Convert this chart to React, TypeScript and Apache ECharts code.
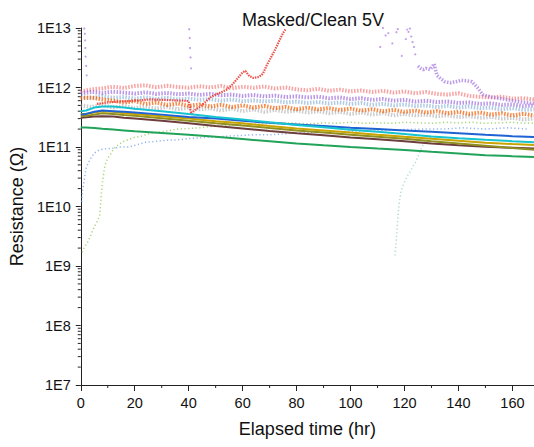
import React, { useEffect, useRef } from 'react';
import * as echarts from 'echarts';

const FONT = '"Liberation Sans", Arial, Helvetica, sans-serif';

// Axis ticks
const xTickValues = [0, 20, 40, 60, 80, 100, 120, 140, 160];
const xMinorTicks = [10, 30, 50, 70, 90, 110, 130, 150];
const yDecades = [1e7, 1e8, 1e9, 1e10, 1e11, 1e12];
const yMinorMantissas = [2, 3, 4, 5, 6, 7, 8, 9];

// Noisy bands, sampled every 4 h
const bandHours = [0, 4, 8, 12, 16, 20, 24, 28, 32, 36, 40, 44, 48, 52, 56, 60, 64, 68, 72, 76, 80, 84, 88, 92, 96, 100, 104, 108, 112, 116, 120, 124, 128, 132, 136, 140, 144, 148, 152, 156, 160, 164, 168];
const redBand = [8.6e11, 9.3e11, 9.7e11, 1.03e12, 9.8e11, 1.06e12, 1.09e12, 1.01e12, 1.07e12, 1.02e12, 9.9e11, 1.05e12, 1.0e12, 1.06e12, 9.7e11, 1.03e12, 9.9e11, 1.04e12, 9.6e11, 1.0e12, 9.3e11, 9.0e11, 9.5e11, 8.8e11, 9.2e11, 8.6e11, 8.9e11, 8.4e11, 8.8e11, 8.2e11, 8.6e11, 8.0e11, 8.4e11, 7.8e11, 7.6e11, 8.0e11, 7.2e11, 7.0e11, 6.8e11, 7.0e11, 6.5e11, 6.6e11, 6.3e11];
const purpleBand = [8.0e11, 8.4e11, 8.1e11, 8.5e11, 8.2e11, 7.9e11, 8.3e11, 7.8e11, 8.1e11, 7.7e11, 7.9e11, 7.5e11, 7.8e11, 7.4e11, 7.6e11, 7.2e11, 7.5e11, 7.1e11, 7.3e11, 6.9e11, 7.1e11, 6.8e11, 7.0e11, 6.6e11, 6.8e11, 6.4e11, 6.6e11, 6.2e11, 6.4e11, 6.0e11, 6.2e11, 5.8e11, 6.0e11, 5.7e11, 5.8e11, 5.5e11, 5.6e11, 5.3e11, 5.4e11, 5.1e11, 5.2e11, 4.9e11, 5.0e11];
const steelBand = [7.0e11, 6.6e11, 7.1e11, 6.7e11, 6.9e11, 6.5e11, 6.8e11, 6.4e11, 6.7e11, 6.3e11, 6.5e11, 6.2e11, 6.4e11, 6.0e11, 6.3e11, 5.9e11, 6.1e11, 5.8e11, 6.0e11, 5.6e11, 5.8e11, 5.5e11, 5.7e11, 5.4e11, 5.6e11, 5.3e11, 5.5e11, 5.1e11, 5.3e11, 5.0e11, 5.2e11, 4.9e11, 5.0e11, 4.7e11, 4.9e11, 4.6e11, 4.8e11, 4.5e11, 4.6e11, 4.3e11, 4.5e11, 4.2e11, 4.3e11];
const orangeBand = [6.6e11, 6.8e11, 6.3e11, 6.0e11, 5.6e11, 5.9e11, 5.3e11, 5.6e11, 5.1e11, 5.4e11, 4.9e11, 5.2e11, 4.8e11, 5.1e11, 4.7e11, 5.0e11, 4.6e11, 4.9e11, 4.5e11, 4.7e11, 4.3e11, 4.6e11, 4.3e11, 4.5e11, 4.2e11, 4.4e11, 4.1e11, 4.3e11, 4.0e11, 4.2e11, 3.9e11, 4.1e11, 3.8e11, 4.0e11, 3.7e11, 3.9e11, 3.6e11, 3.8e11, 3.5e11, 3.7e11, 3.4e11, 3.6e11, 3.4e11];
const grayBand = [5.0e11, 4.7e11, 5.1e11, 4.6e11, 4.9e11, 4.5e11, 4.8e11, 4.4e11, 4.7e11, 4.3e11, 4.6e11, 4.3e11, 4.5e11, 4.1e11, 4.4e11, 4.0e11, 4.3e11, 3.9e11, 4.2e11, 3.9e11, 4.1e11, 3.8e11, 4.0e11, 3.7e11, 3.9e11, 3.6e11, 3.8e11, 3.5e11, 3.7e11, 3.4e11, 3.6e11, 3.4e11, 3.5e11, 3.3e11, 3.4e11, 3.2e11, 3.3e11, 3.1e11, 3.2e11, 3.0e11, 3.1e11, 2.9e11, 3.0e11];

// Sparse rising series
const greenRiseHours = [0.5, 1, 1.5, 2, 2.5, 3, 3.5, 4, 4.5, 5, 5.5, 6, 6.5, 7, 7.5, 8, 8.5, 9, 10, 11, 12, 13, 14, 16, 18, 20, 22, 24, 26, 28, 30, 33, 36, 40, 44, 48, 52, 56, 60, 64, 68, 72, 76, 80, 85, 90, 95, 100, 105, 110, 115, 120, 125, 130, 135, 140, 145, 150, 155, 160, 165, 168];
const greenRiseValues = [1.7e9, 1.9e9, 2.1e9, 2.3e9, 2.5e9, 2.8e9, 3.1e9, 3.5e9, 4.0e9, 4.6e9, 5.0e9, 5.5e9, 6.2e9, 7.0e9, 1.4e10, 2.5e10, 3.6e10, 5.0e10, 6.5e10, 7.5e10, 9e10, 1.0e11, 1.1e11, 1.25e11, 1.35e11, 1.45e11, 1.5e11, 1.6e11, 1.7e11, 1.75e11, 1.8e11, 1.9e11, 2.0e11, 2.05e11, 2.1e11, 2.2e11, 2.25e11, 2.35e11, 2.4e11, 2.4e11, 2.5e11, 2.45e11, 2.55e11, 2.5e11, 2.45e11, 2.55e11, 2.5e11, 2.6e11, 2.5e11, 2.55e11, 2.5e11, 2.6e11, 2.55e11, 2.5e11, 2.6e11, 2.55e11, 2.6e11, 2.5e11, 2.55e11, 2.6e11, 2.5e11, 2.55e11];
const blueDotHours = [0.3, 0.8, 1.3, 2, 3, 4, 5, 7, 9, 12, 15, 18, 21, 24, 28, 32, 36, 41, 46, 52, 58, 64, 70, 78, 86, 94, 102, 110, 118, 126, 134, 142, 150, 158, 166];
const blueDotValues = [1.2e10, 2e10, 2.8e10, 4.5e10, 5.6e10, 6.8e10, 7.9e10, 9e10, 9.3e10, 9.6e10, 1.0e11, 1.0e11, 1.1e11, 1.2e11, 1.25e11, 1.3e11, 1.32e11, 1.4e11, 1.45e11, 1.5e11, 1.55e11, 1.6e11, 1.6e11, 1.7e11, 1.75e11, 1.8e11, 1.85e11, 1.9e11, 1.95e11, 2.0e11, 2.0e11, 2.1e11, 2.0e11, 2.1e11, 2.0e11];
const tealLateHours = [116.5, 117, 117.5, 118, 118.6, 119.5, 120.5, 121.3, 122, 123, 124, 125, 126, 127, 128.5, 130];
const tealLateValues = [1.5e9, 3e9, 6e9, 1.1e10, 1.7e10, 2.3e10, 2.9e10, 3.4e10, 3.8e10, 4.6e10, 5.4e10, 7e10, 8.9e10, 1.1e11, 1.3e11, 1.5e11];

// Red sample that drifts up to 1E13
const redRiseHours = [6, 10, 14, 18, 22, 26, 30, 34, 38, 40, 40.5, 41, 42, 44, 46, 48, 50, 52, 54, 56, 58, 60, 61, 62.5, 64, 66, 67.5, 69, 70.5, 72, 73.5, 75, 76];
const redRiseValues = [5.3e11, 5.6e11, 5.8e11, 5.9e11, 6.1e11, 6.3e11, 6.2e11, 6.1e11, 6.0e11, 5.9e11, 4.5e11, 3.6e11, 4.1e11, 4.7e11, 5.6e11, 6.8e11, 7.6e11, 8.3e11, 9.2e11, 1.1e12, 1.4e12, 1.8e12, 1.9e12, 1.55e12, 1.45e12, 1.5e12, 1.7e12, 2.4e12, 3.2e12, 4.3e12, 6.0e12, 8.3e12, 9.6e12];

// Purple sample with excursions
const purpleOutlierHours = [1.3, 1.5, 1.6, 1.7, 1.8, 2.0, 2.2, 40.2, 40.4, 40.5, 40.7, 40.9, 111, 112, 113, 114, 115.5, 117, 117.5, 119, 120.5, 121, 121.5, 122, 122.5, 123, 123.5, 124];
const purpleOutlierValues = [9.8e12, 8e12, 6.2e12, 4.6e12, 3.3e12, 2.3e12, 1.6e12, 9.5e12, 6.8e12, 4.6e12, 3.2e12, 2.1e12, 4.8e12, 1e13, 7.5e12, 8.2e12, 5.5e12, 8.5e12, 9.6e12, 3.4e12, 6.5e12, 9.4e12, 8.6e12, 9.8e12, 7.2e12, 5.8e12, 4.8e12, 3.6e12];
const purpleHighHours = [125, 126, 127, 128, 129.5, 131, 132, 133.5, 135, 137, 139, 141, 143, 145, 147, 149, 152, 155, 158, 161, 165, 168];
const purpleHighValues = [2.3e12, 2.1e12, 2.0e12, 2.1e12, 2.0e12, 2.5e12, 1.6e12, 1.4e12, 1.25e12, 1.2e12, 1.25e12, 1.32e12, 1.3e12, 1.25e12, 1.0e12, 7.6e11, 6.9e11, 6.6e11, 6.2e11, 5.9e11, 5.6e11, 5.4e11];

// Smooth decaying samples
const lineHours = [0, 2, 5, 8, 12, 16, 20, 30, 40, 50, 60, 70, 80, 90, 100, 110, 120, 130, 140, 150, 160, 168];
const cyanLine = [4.0e11, 4.1e11, 4.6e11, 4.8e11, 4.8e11, 4.6e11, 4.4e11, 4.0e11, 3.6e11, 3.2e11, 2.9e11, 2.6e11, 2.35e11, 2.15e11, 1.95e11, 1.8e11, 1.65e11, 1.5e11, 1.4e11, 1.32e11, 1.25e11, 1.2e11];
const blueLine = [3.5e11, 3.6e11, 3.9e11, 4.1e11, 4.0e11, 3.9e11, 3.8e11, 3.5e11, 3.2e11, 3.0e11, 2.75e11, 2.55e11, 2.4e11, 2.25e11, 2.1e11, 2.0e11, 1.9e11, 1.8e11, 1.7e11, 1.6e11, 1.52e11, 1.47e11];
const goldLine = [3.6e11, 3.6e11, 3.8e11, 4.0e11, 3.9e11, 3.7e11, 3.6e11, 3.3e11, 3.0e11, 2.7e11, 2.5e11, 2.25e11, 2.05e11, 1.9e11, 1.75e11, 1.6e11, 1.48e11, 1.37e11, 1.27e11, 1.18e11, 1.12e11, 1.08e11];
const oliveLine = [3.3e11, 3.35e11, 3.5e11, 3.7e11, 3.6e11, 3.45e11, 3.35e11, 3.05e11, 2.75e11, 2.5e11, 2.3e11, 2.08e11, 1.9e11, 1.75e11, 1.6e11, 1.48e11, 1.37e11, 1.25e11, 1.15e11, 1.05e11, 9.6e10, 9.0e10];
const brownLine = [3.1e11, 3.15e11, 3.25e11, 3.3e11, 3.25e11, 3.1e11, 3.0e11, 2.75e11, 2.5e11, 2.25e11, 2.05e11, 1.85e11, 1.7e11, 1.57e11, 1.45e11, 1.35e11, 1.25e11, 1.15e11, 1.07e11, 1.01e11, 9.7e10, 9.4e10];
const greenLine = [2.12e11, 2.12e11, 2.08e11, 2.02e11, 1.96e11, 1.9e11, 1.84e11, 1.72e11, 1.6e11, 1.48e11, 1.36e11, 1.25e11, 1.15e11, 1.07e11, 1.0e11, 9.4e10, 8.9e10, 8.3e10, 7.8e10, 7.3e10, 7.0e10, 6.8e10];

const pairs = (xs: number[], ys: number[]) => xs.map((x, i) => [x, ys[i]]);

const band = (name: string, xs: number[], ys: number[], color: string, opacity = 0.6) => ({
  name, type: 'line', data: pairs(xs, ys), showSymbol: false, silent: true,
  lineStyle: { color, width: 4, type: [1.5, 1.5], opacity },
});
const dotted = (name: string, xs: number[], ys: number[], color: string, width = 1.5) => ({
  name, type: 'line', data: pairs(xs, ys), showSymbol: false, silent: true,
  lineStyle: { color, width, type: [1.2, 2.5], opacity: 0.85 },
});
const solid = (name: string, xs: number[], ys: number[], color: string, width = 2, opacity = 1) => ({
  name, type: 'line', data: pairs(xs, ys), showSymbol: false, silent: true,
  lineStyle: { color, width, opacity },
});

export default function App() {
  const ref = useRef<HTMLDivElement>(null);
  useEffect(() => {
    if (!ref.current) return;
    const chart = echarts.init(ref.current, null, { renderer: 'svg' });
    const yMinor: number[][] = [];
    yDecades.forEach((d) => yMinorMantissas.forEach((m) => yMinor.push([0, m * d])));
    const option: any = {
      animation: false,
      backgroundColor: '#ffffff',
      textStyle: { fontFamily: FONT },
      title: {
        text: 'Masked/Clean 5V', left: 308, top: 6, textAlign: 'center',
        textStyle: { fontFamily: FONT, fontSize: 18, fontWeight: 'normal', color: '#111' },
      },
      grid: { left: 77, right: 0, top: 28, bottom: 62, containLabel: false },
      xAxis: {
        type: 'value', min: 0, max: 168, interval: 20,
        name: 'Elapsed time (hr)', nameLocation: 'middle', nameGap: 35,
        nameTextStyle: { fontFamily: FONT, fontSize: 18, color: '#111' },
        axisLine: { show: true, lineStyle: { color: '#222', width: 1 } },
        axisTick: { show: true, inside: false, length: 6, customValues: xTickValues, lineStyle: { color: '#222' } },
        axisLabel: { fontFamily: FONT, fontSize: 14.5, color: '#111', margin: 10, customValues: xTickValues },
        splitLine: { show: false },
      },
      yAxis: {
        type: 'log', logBase: 10, min: 1e7, max: 1e13, splitNumber: 6,
        name: 'Resistance (Ω)', nameLocation: 'middle', nameGap: 51,
        nameTextStyle: { fontFamily: FONT, fontSize: 18, color: '#111' },
        axisLine: { show: true, lineStyle: { color: '#222', width: 1 } },
        axisTick: { show: true, inside: false, length: 5, lineStyle: { color: '#222' } },
        axisLabel: {
          fontFamily: FONT, fontSize: 14.5, color: '#111', margin: 10,
          formatter: (v: number) => '1E' + Math.round(Math.log10(v)),
        },
        splitLine: { show: false },
      },
      series: [
        band('Red band', bandHours, redBand, '#f04848', 0.5),
        band('Purple band', bandHours, purpleBand, '#9460da', 0.65),
        band('Steel band', bandHours, steelBand, '#6f9fcc', 0.55),
        band('Gray band', bandHours, grayBand, '#9a9a9a', 0.5),
        band('Orange band', bandHours, orangeBand, '#f56008', 0.75),
        dotted('Light green', greenRiseHours, greenRiseValues, '#98cc5e'),
        dotted('Light blue', blueDotHours, blueDotValues, '#7fa6ee'),
        dotted('Pale teal', tealLateHours, tealLateValues, '#9ad8c0'),
        {
          name: 'Purple outliers', type: 'scatter', silent: true, symbolSize: 2.2,
          data: pairs(purpleOutlierHours, purpleOutlierValues),
          itemStyle: { color: '#b48ae6', opacity: 0.8 },
        },
        {
          name: 'Purple high', type: 'line', data: pairs(purpleHighHours, purpleHighValues), showSymbol: false, silent: true,
          lineStyle: { color: '#a273e0', width: 3.5, type: [1.5, 1.5], opacity: 0.7 },
        },
        {
          name: 'Red rise', type: 'line', data: pairs(redRiseHours, redRiseValues), showSymbol: false, silent: true,
          lineStyle: { color: '#e8362e', width: 2.2, type: [1.5, 1], opacity: 0.85 },
        },
        solid('Green', lineHours, greenLine, '#22a35a'),
        solid('Brown', lineHours, brownLine, '#6e3d3d'),
        solid('Olive', lineHours, oliveLine, '#8f8f22'),
        solid('Gold', lineHours, goldLine, '#c9a300'),
        solid('Blue', lineHours, blueLine, '#1f62d4'),
        solid('Cyan', lineHours, cyanLine, '#17c3cf'),
        {
          name: 'y minor ticks', type: 'custom', coordinateSystem: 'cartesian2d', clip: false, silent: true,
          data: yMinor,
          renderItem: (_p: any, api: any) => {
            const c = api.coord([0, api.value(1)]);
            return { type: 'line', shape: { x1: c[0] - 3, y1: c[1], x2: c[0], y2: c[1] }, style: { stroke: '#222', lineWidth: 1 } };
          },
        },
        {
          name: 'x minor ticks', type: 'custom', coordinateSystem: 'cartesian2d', clip: false, silent: true,
          data: xMinorTicks.map((x) => [x, 1e7]),
          renderItem: (_p: any, api: any) => {
            const c = api.coord([api.value(0), 1e7]);
            return { type: 'line', shape: { x1: c[0], y1: c[1], x2: c[0], y2: c[1] + 3 }, style: { stroke: '#222', lineWidth: 1 } };
          },
        },
      ],
    };
    chart.setOption(option);
    return () => chart.dispose();
  }, []);
  return <div ref={ref} style={{ position: 'fixed', left: 0, top: 0, width: 534, height: 447 }} />;
}
